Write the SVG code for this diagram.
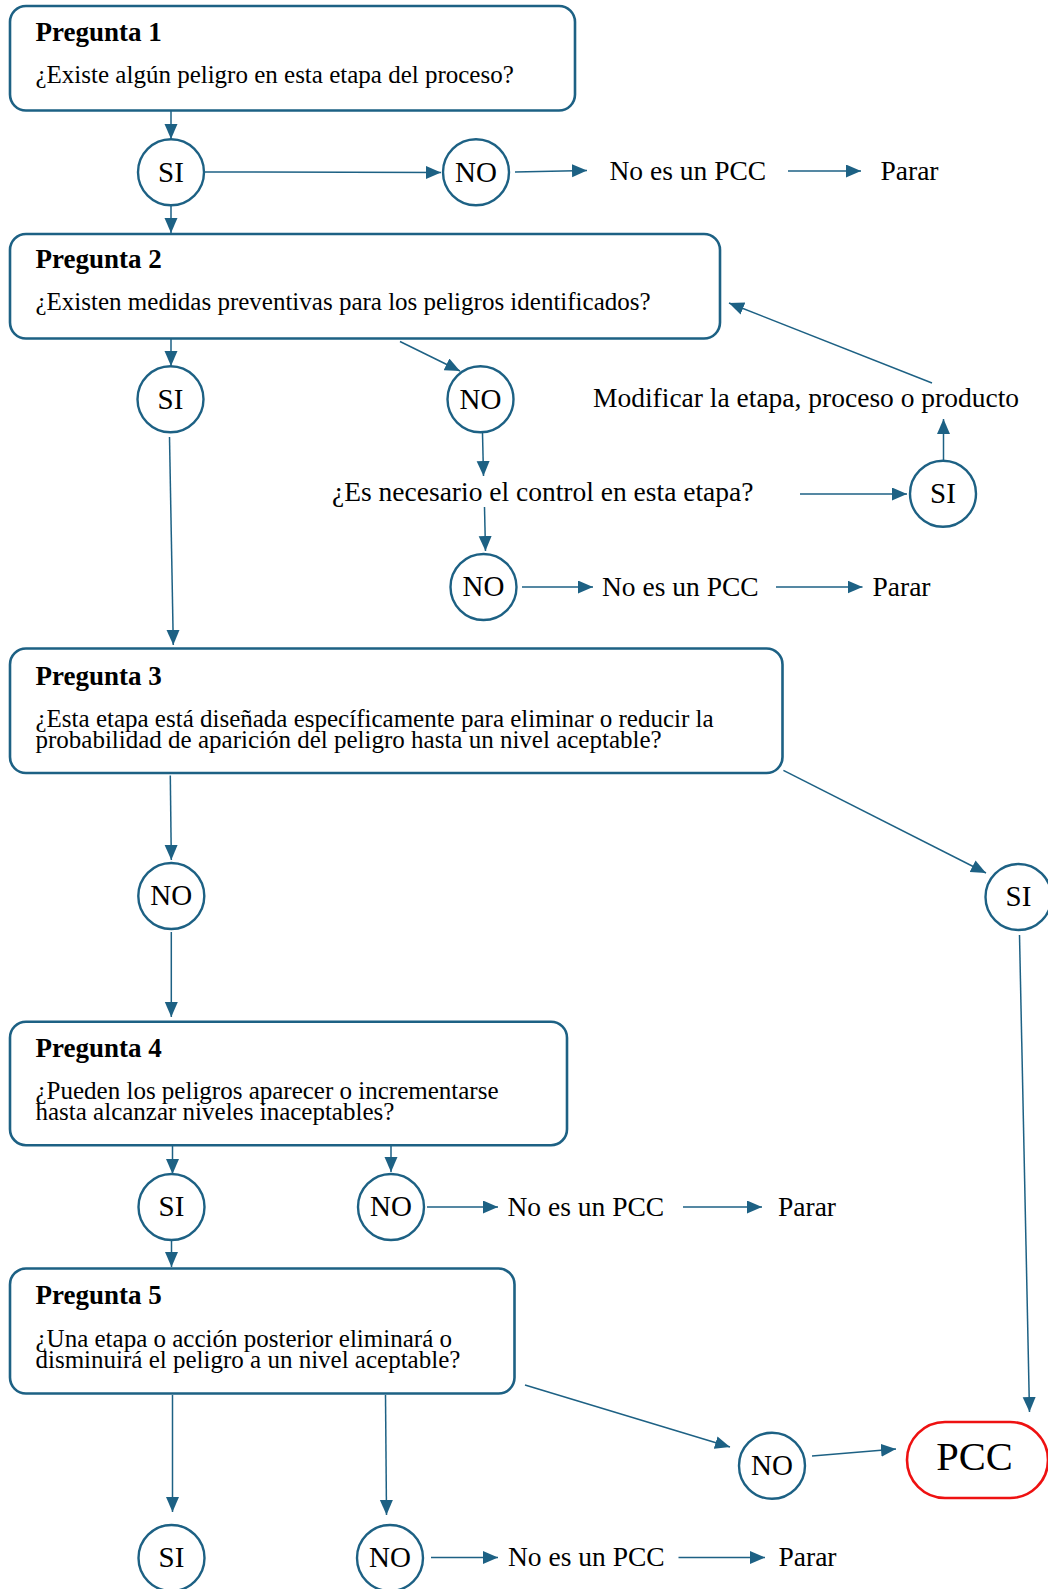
<svg xmlns="http://www.w3.org/2000/svg" width="1048" height="1589" viewBox="0 0 1048 1589">
  <defs>
    <marker id="arrow" markerUnits="userSpaceOnUse" markerWidth="16" markerHeight="14" refX="15" refY="6.5" orient="auto">
      <path d="M0,0 L15,6.5 L0,13 z" fill="#1d6184"/>
    </marker>
    <style>
      .box { fill: #ffffff; stroke: #1d6184; stroke-width: 2.6; }
      .node { fill: #ffffff; stroke: #1d6184; stroke-width: 2.4; }
      .pcc { fill: #ffffff; stroke: #ee1111; stroke-width: 2.6; }
      .edge { fill: none; stroke: #1d6184; stroke-width: 1.5; marker-end: url(#arrow); }
      .title { font-family: "Liberation Serif", "Times New Roman", serif; font-weight: bold; font-size: 27px; fill: #000; }
      .body { font-family: "Liberation Serif", "Times New Roman", serif; font-size: 25px; fill: #000; }
      .label { font-family: "Liberation Serif", "Times New Roman", serif; font-size: 27.5px; fill: #000; }
      .yn { font-family: "Liberation Serif", "Times New Roman", serif; font-size: 29px; fill: #000; text-anchor: middle; }
      .big { font-family: "Liberation Serif", "Times New Roman", serif; font-size: 40.5px; fill: #000; text-anchor: middle; }
    </style>
  </defs>
  <rect width="1048" height="1589" fill="#ffffff"/>

  <!-- connectors -->
  <g id="connectors">
    <line class="edge" x1="171" y1="111" x2="171" y2="139"/>
    <line class="edge" x1="205" y1="172" x2="441" y2="172.5"/>
    <line class="edge" x1="515" y1="172" x2="587" y2="170.5"/>
    <line class="edge" x1="788" y1="171" x2="861" y2="171"/>
    <line class="edge" x1="171" y1="205.5" x2="171" y2="233"/>
    <line class="edge" x1="171" y1="339" x2="171" y2="366"/>
    <line class="edge" x1="400" y1="341.5" x2="460" y2="371"/>
    <line class="edge" x1="482.5" y1="433" x2="483.5" y2="476"/>
    <line class="edge" x1="800" y1="494" x2="907" y2="494"/>
    <line class="edge" x1="943.5" y1="460" x2="943.5" y2="419"/>
    <line class="edge" x1="932" y1="383" x2="729" y2="303"/>
    <line class="edge" x1="484.5" y1="507" x2="485.5" y2="551"/>
    <line class="edge" x1="522" y1="587" x2="593" y2="587"/>
    <line class="edge" x1="776" y1="587" x2="862.5" y2="587"/>
    <line class="edge" x1="169.5" y1="437" x2="173.3" y2="645"/>
    <line class="edge" x1="170.3" y1="775.5" x2="171.3" y2="860"/>
    <line class="edge" x1="783.4" y1="770.3" x2="986" y2="873"/>
    <line class="edge" x1="1019.5" y1="935" x2="1029.5" y2="1412"/>
    <line class="edge" x1="171.3" y1="932" x2="171.3" y2="1017"/>
    <line class="edge" x1="172.5" y1="1146" x2="172.5" y2="1174"/>
    <line class="edge" x1="391" y1="1146" x2="391" y2="1172"/>
    <line class="edge" x1="427" y1="1207" x2="498" y2="1207"/>
    <line class="edge" x1="683" y1="1207" x2="762" y2="1207"/>
    <line class="edge" x1="171.5" y1="1240" x2="171.5" y2="1267"/>
    <line class="edge" x1="172.5" y1="1395" x2="172.5" y2="1512"/>
    <line class="edge" x1="385.5" y1="1395" x2="386.5" y2="1515"/>
    <line class="edge" x1="525" y1="1385" x2="730" y2="1447"/>
    <line class="edge" x1="812" y1="1456" x2="896" y2="1449"/>
    <line class="edge" x1="431" y1="1557.5" x2="498" y2="1557.5"/>
    <line class="edge" x1="678.5" y1="1557.5" x2="765" y2="1557.5"/>
  </g>

  <!-- question boxes -->
  <g id="q1">
    <rect class="box" x="10" y="6" width="565" height="104.5" rx="16"/>
    <text class="title" x="35.5" y="40.5">Pregunta 1</text>
    <text class="body" x="35.5" y="83">¿Existe algún peligro en esta etapa del proceso?</text>
  </g>
  <g id="q2">
    <rect class="box" x="10" y="234" width="710" height="104.5" rx="16"/>
    <text class="title" x="35.5" y="268">Pregunta 2</text>
    <text class="body" x="35.5" y="310">¿Existen medidas preventivas para los peligros identificados?</text>
  </g>
  <g id="q3">
    <rect class="box" x="10" y="648.5" width="772.5" height="124.5" rx="16"/>
    <text class="title" x="35.5" y="684.5">Pregunta 3</text>
    <text class="body" x="35.5" y="727">¿Esta etapa está diseñada específicamente para eliminar o reducir la</text>
    <text class="body" x="35.5" y="748">probabilidad de aparición del peligro hasta un nivel aceptable?</text>
  </g>
  <g id="q4">
    <rect class="box" x="10" y="1021.7" width="557" height="123.5" rx="16"/>
    <text class="title" x="35.5" y="1057">Pregunta 4</text>
    <text class="body" x="35.5" y="1099">¿Pueden los peligros aparecer o incrementarse</text>
    <text class="body" x="35.5" y="1120">hasta alcanzar niveles inaceptables?</text>
  </g>
  <g id="q5">
    <rect class="box" x="10" y="1268.5" width="504.5" height="125" rx="16"/>
    <text class="title" x="35.5" y="1304">Pregunta 5</text>
    <text class="body" x="35.5" y="1346.5">¿Una etapa o acción posterior eliminará o</text>
    <text class="body" x="35.5" y="1368">disminuirá el peligro a un nivel aceptable?</text>
  </g>

  <!-- yes / no decisions -->
  <g id="si1"><circle class="node" cx="171" cy="172.3" r="33"/><text class="yn" x="171" y="181.5">SI</text></g>
  <g id="no1"><circle class="node" cx="476" cy="172.3" r="33"/><text class="yn" x="476" y="181.5">NO</text></g>
  <g id="si2"><circle class="node" cx="170.5" cy="399.3" r="33"/><text class="yn" x="170.5" y="408.5">SI</text></g>
  <g id="no2"><circle class="node" cx="480.5" cy="399.3" r="33"/><text class="yn" x="480.5" y="408.5">NO</text></g>
  <g id="si3"><circle class="node" cx="943" cy="493.8" r="33"/><text class="yn" x="943" y="503">SI</text></g>
  <g id="no3"><circle class="node" cx="483.5" cy="587" r="33"/><text class="yn" x="483.5" y="596.2">NO</text></g>
  <g id="no4"><circle class="node" cx="171.3" cy="896" r="33"/><text class="yn" x="171.3" y="905.2">NO</text></g>
  <g id="si4"><circle class="node" cx="1018.5" cy="897" r="33"/><text class="yn" x="1018.5" y="905.7">SI</text></g>
  <g id="si5"><circle class="node" cx="171.5" cy="1207" r="33"/><text class="yn" x="171.5" y="1216.2">SI</text></g>
  <g id="no5"><circle class="node" cx="391" cy="1207" r="33"/><text class="yn" x="391" y="1216.2">NO</text></g>
  <g id="no7"><circle class="node" cx="772" cy="1465.8" r="33"/><text class="yn" x="772" y="1475">NO</text></g>
  <g id="si6"><circle class="node" cx="171.5" cy="1558" r="33"/><text class="yn" x="171.5" y="1567.2">SI</text></g>
  <g id="no6"><circle class="node" cx="390" cy="1558" r="33"/><text class="yn" x="390" y="1567.2">NO</text></g>

  <!-- outcomes -->
  <g id="pcc">
    <rect class="pcc" x="907" y="1422" width="141" height="76" rx="38"/>
    <text class="big" x="974.5" y="1470">PCC</text>
  </g>
  <g id="modificar"><text class="label" x="593" y="407">Modificar la etapa, proceso o producto</text></g>
  <g id="control"><text class="label" x="332" y="501">¿Es necesario el control en esta etapa?</text></g>
  <g id="nopcc1"><text class="label" x="609.5" y="180">No es un PCC</text></g>
  <g id="parar1"><text class="label" x="880.5" y="180">Parar</text></g>
  <g id="nopcc2"><text class="label" x="602" y="596">No es un PCC</text></g>
  <g id="parar2"><text class="label" x="872.5" y="596">Parar</text></g>
  <g id="nopcc3"><text class="label" x="507.5" y="1215.5">No es un PCC</text></g>
  <g id="parar3"><text class="label" x="778" y="1215.5">Parar</text></g>
  <g id="nopcc4"><text class="label" x="508" y="1566">No es un PCC</text></g>
  <g id="parar4"><text class="label" x="778.5" y="1566">Parar</text></g>
</svg>
